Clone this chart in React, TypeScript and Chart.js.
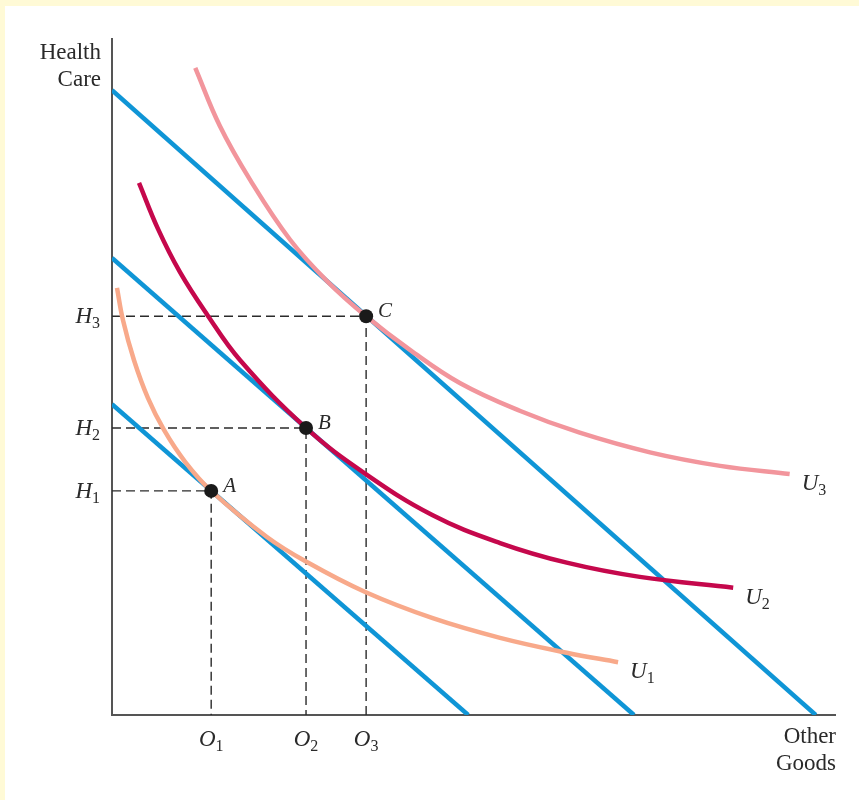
import React, { useEffect, useRef } from "react";
import { Chart, registerables } from "chart.js";

Chart.register(...registerables);

// Axis ranges (arbitrary units)
const X_MAX = 100;
const Y_MAX = 100;

// Budget lines: intercepts on each axis
const budgetYIntercepts = [45.9, 67.5, 92.3];
const budgetXIntercepts = [49.2, 72.1, 97.2];

// Indifference curves
const u1X = [0.69, 1.52, 3.04, 4.97, 7.18, 10.1, 13.7, 21.4, 26.9, 34.9, 44.3, 53.6, 62.8, 69.9];
const u1Y = [63.1, 58.3, 52.4, 46.8, 42.1, 37.4, 33.1, 26.3, 22.6, 18.2, 14.3, 11.4, 9.2, 7.8];
const u2X = [3.73, 6.35, 9.39, 13.1, 17.7, 26.8, 34.9, 44.3, 53.6, 62.8, 72.9, 85.8];
const u2Y = [78.6, 71.8, 65.4, 59.2, 52.4, 42.4, 35.7, 29.5, 25.4, 22.5, 20.4, 18.8];
const u3X = [11.5, 14.9, 19.1, 24.6, 29.7, 35.1, 41.2, 48.1, 56.4, 64.6, 74.3, 84.0, 93.6];
const u3Y = [95.6, 87.0, 79.0, 70.2, 64.1, 58.9, 53.9, 49.0, 44.9, 41.7, 38.8, 36.8, 35.6];
const curveLabels = ["1", "2", "3"];

// Optimal points
const pointNames = ["A", "B", "C"];
const pointX = [13.7, 26.8, 35.1];
const pointY = [33.1, 42.4, 58.9];
const hLabels = ["1", "2", "3"];
const oLabels = ["1", "2", "3"];

const BLUE = "#0f95d6";
const U_COLORS = ["#f8a98a", "#c5084c", "#f2959c"];
const SERIF = "'Liberation Serif', 'DejaVu Serif', serif";

const zip = (xs: number[], ys: number[]) => xs.map((x, i) => ({ x, y: ys[i] }));

export default function App() {
  const ref = useRef<HTMLCanvasElement | null>(null);

  useEffect(() => {
    const canvas = ref.current!;
    const curves = [zip(u1X, u1Y), zip(u2X, u2Y), zip(u3X, u3Y)];

    const datasets: any[] = [];
    // dashed guides
    pointX.forEach((px, i) => {
      datasets.push({
        data: [
          { x: 0, y: pointY[i] },
          { x: px, y: pointY[i] },
          { x: px, y: 0 },
        ],
        borderColor: "#2b2b2b",
        borderWidth: 1.4,
        borderDash: [9, 5],
        pointRadius: 0,
        tension: 0,
        order: 5,
      });
    });
    // indifference curves
    curves.forEach((c, i) => {
      datasets.push({
        data: c,
        borderColor: U_COLORS[i],
        borderWidth: 4.5,
        pointRadius: 0,
        tension: 0.4,
        order: 3,
      });
    });
    // budget lines
    budgetYIntercepts.forEach((yi, i) => {
      datasets.push({
        data: [
          { x: 0, y: yi },
          { x: budgetXIntercepts[i], y: 0 },
        ],
        borderColor: BLUE,
        borderWidth: 4.5,
        pointRadius: 0,
        tension: 0,
        order: 4,
      });
    });
    // points
    datasets.push({
      data: zip(pointX, pointY),
      showLine: false,
      pointRadius: 7,
      pointBackgroundColor: "#1a1a1a",
      pointBorderColor: "#1a1a1a",
      pointBorderWidth: 0,
      order: 0,
    });

    const drawSub = (
      ctx: CanvasRenderingContext2D,
      main: string,
      sub: string,
      x: number,
      y: number,
      align: "left" | "right" | "center"
    ) => {
      ctx.textBaseline = "alphabetic";
      ctx.textAlign = "left";
      const mainFont = `italic 23px ${SERIF}`;
      const subFont = `16px ${SERIF}`;
      ctx.font = mainFont;
      const wm = ctx.measureText(main).width;
      ctx.font = subFont;
      const ws = ctx.measureText(sub).width;
      const total = wm + ws;
      let x0 = x;
      if (align === "right") x0 = x - total;
      if (align === "center") x0 = x - total / 2;
      ctx.font = mainFont;
      ctx.fillText(main, x0, y);
      ctx.font = subFont;
      ctx.fillText(sub, x0 + wm, y + 5);
    };

    const annot = {
      id: "annot",
      beforeDatasetsDraw(chart: any) {
        const { ctx, chartArea } = chart;
        ctx.save();
        ctx.strokeStyle = "#555555";
        ctx.lineWidth = 2;
        ctx.beginPath();
        ctx.moveTo(chartArea.left, chartArea.top);
        ctx.lineTo(chartArea.left, chartArea.bottom);
        ctx.lineTo(chartArea.right, chartArea.bottom);
        ctx.stroke();
        ctx.restore();
      },
      afterDraw(chart: any) {
        const { ctx, chartArea, scales } = chart;
        const xs = scales.x;
        const ys = scales.y;
        ctx.save();
        ctx.fillStyle = "#2a2a2a";
        // axis titles
        ctx.font = `23px ${SERIF}`;
        ctx.textAlign = "right";
        ctx.textBaseline = "alphabetic";
        ctx.fillText("Health", chartArea.left - 11, chartArea.top + 21);
        ctx.fillText("Care", chartArea.left - 11, chartArea.top + 48);
        ctx.fillText("Other", chartArea.right, chartArea.bottom + 28);
        ctx.fillText("Goods", chartArea.right, chartArea.bottom + 55);
        // H labels
        pointY.forEach((v, i) => {
          drawSub(ctx, "H", hLabels[i], chartArea.left - 12, ys.getPixelForValue(v) + 7, "right");
        });
        // O labels
        pointX.forEach((v, i) => {
          drawSub(ctx, "O", oLabels[i], xs.getPixelForValue(v), chartArea.bottom + 31, "center");
        });
        // point names
        ctx.font = `italic 21px ${SERIF}`;
        ctx.textAlign = "left";
        pointX.forEach((v, i) => {
          ctx.fillText(pointNames[i], xs.getPixelForValue(v) + 12, ys.getPixelForValue(pointY[i]) + 1);
        });
        // curve labels
        const ends = [
          [u1X, u1Y],
          [u2X, u2Y],
          [u3X, u3Y],
        ];
        ends.forEach(([cx, cy], i) => {
          const ex = xs.getPixelForValue(cx[cx.length - 1]);
          const ey = ys.getPixelForValue(cy[cy.length - 1]);
          drawSub(ctx, "U", curveLabels[i], ex + 12, ey + 16, "left");
        });
        ctx.restore();
      },
    };

    const chart = new Chart(canvas, {
      type: "line",
      data: { datasets },
      options: {
        animation: false,
        responsive: false,
        devicePixelRatio: 1,
        layout: { padding: { left: 112, top: 38, right: 23, bottom: 85 } },
        plugins: { legend: { display: false }, tooltip: { enabled: false } },
        scales: {
          x: { type: "linear", min: 0, max: X_MAX, display: false },
          y: { type: "linear", min: 0, max: Y_MAX, display: false },
        },
        elements: { line: { borderCapStyle: "butt" } },
      },
      plugins: [annot],
    } as any);
    return () => chart.destroy();
  }, []);

  return (
    <div
      style={{
        position: "absolute",
        left: 0,
        top: 0,
        width: 859,
        height: 800,
        background: "#fffad6",
        overflow: "hidden",
      }}
    >
      <div
        style={{
          position: "absolute",
          left: 5,
          top: 6,
          width: 854,
          height: 794,
          background: "#ffffff",
        }}
      />
      <canvas
        ref={ref}
        width={859}
        height={800}
        style={{ position: "absolute", left: 0, top: 0, width: 859, height: 800 }}
      />
    </div>
  );
}
